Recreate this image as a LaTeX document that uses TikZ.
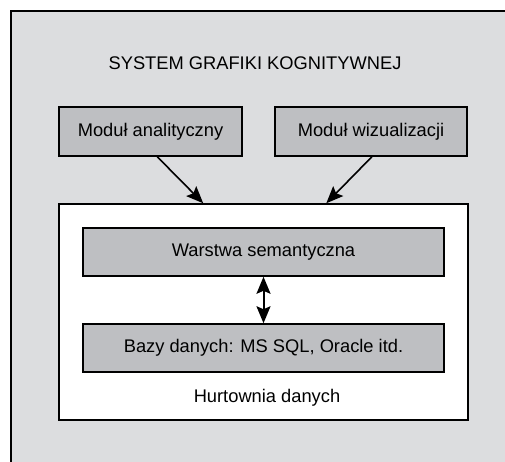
\documentclass[tikz,border=0pt]{standalone}
\usepackage{fontspec}
\setmainfont{Liberation Sans}
\usetikzlibrary{arrows.meta}

\definecolor{framegray}{RGB}{220,221,223}
\definecolor{boxgray}{RGB}{190,191,194}

\begin{document}
\begin{tikzpicture}[
        x=1pt, y=-1pt,
        font=\fontsize{18.3}{21}\selectfont,
        module/.style={draw, line width=1.5pt, fill=boxgray, minimum height=49pt, align=center, inner sep=0pt}, % Gray boxes
        layer/.style={module, minimum width=361pt, minimum height=48pt}, % Layers of the warehouse
        tip/.tip={Stealth[length=17pt, width=14pt, inset=3pt]},
        flow/.style={line width=1.6pt, -tip} % Arrow styling
        ]

        % Page and outer frame
        \clip (0,0) rectangle (505,461);
        \fill[white] (0,0) rectangle (505,461);
        \draw[line width=1.7pt, fill=framegray] (11,11) rectangle (530,480);

        % Define nodes
        \node (title) at (255,63) {SYSTEM GRAFIKI KOGNITYWNEJ};
        \node (anal) [module, minimum width=183pt] at (150.5,131.5) {Moduł analityczny};
        \node (wiz) [module, minimum width=192pt] at (371,131.5) {Moduł wizualizacji};

        \node (dw) [draw, line width=1.5pt, fill=white, minimum width=409pt, minimum height=216pt] at (263.5,312) {};
        \node (sem) [layer] at (263.5,252) {Warstwa semantyczna};
        \node (bazy) [layer] at (263.5,348) {Bazy danych: MS SQL, Oracle itd.};
        \node (hurt) at (267,398) {Hurtownia danych};

        % Draw arrows
        \draw[flow] (anal.-75) -- (dw.119);
        \draw[flow] (wiz.-88) -- (dw.60);
        \draw[flow, tip-tip, line width=2pt] (sem.south) -- (bazy.north);

    \end{tikzpicture}
\end{document}
